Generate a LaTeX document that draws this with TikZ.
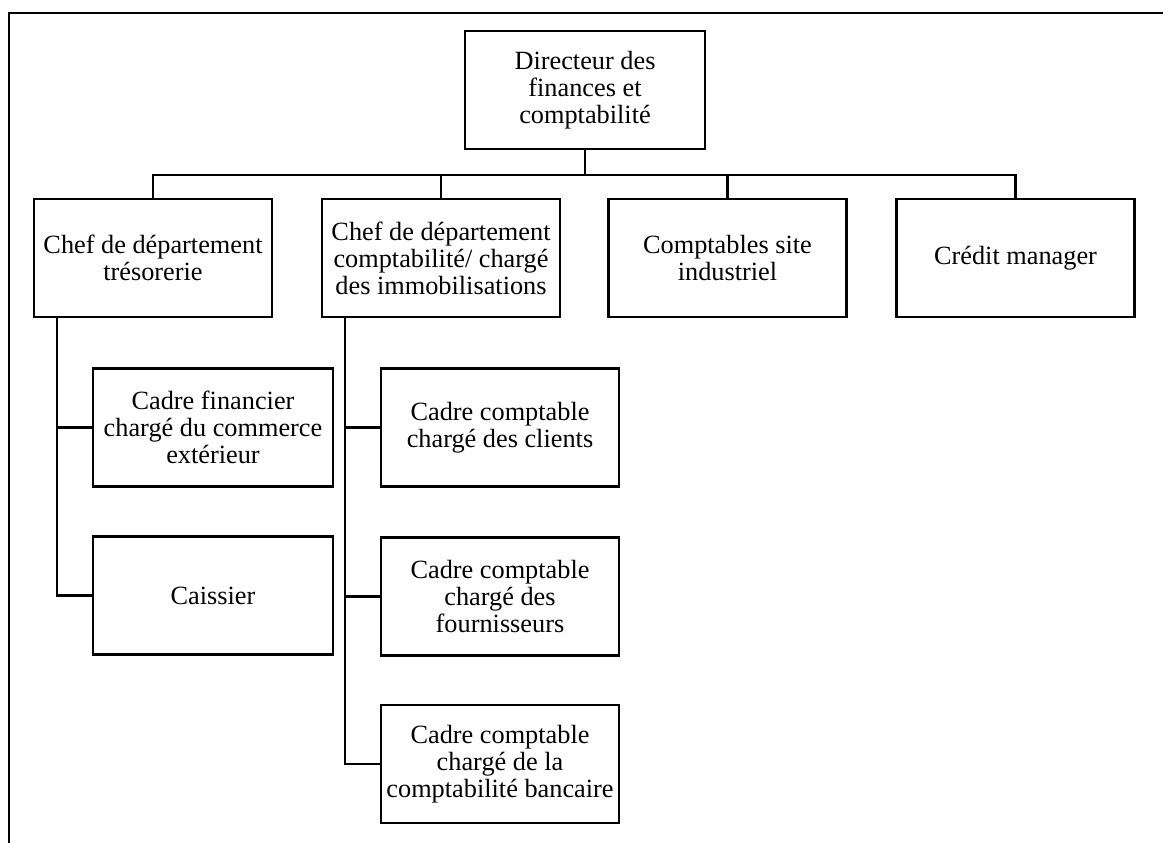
\documentclass[tikz,border=0pt]{standalone}
\usepackage{fontspec}
\setmainfont{Liberation Serif}
\begin{document}
\begin{tikzpicture}[x=1pt,y=-1pt,
  line width=2.4pt,
  unit/.style={draw, rectangle, line width=2.4pt, minimum width=238pt, minimum height=118pt,
    align=center, inner sep=2pt, font=\fontsize{26.3}{27}\selectfont},
  link/.style={draw, line width=2.4pt}]
\useasboundingbox (0,0) rectangle (1163,843);
% frame
\draw[line width=2.6pt] (9,843) -- (9,13) -- (1163,13);

% top
\node[unit, minimum width=240pt] (dir) at (585,90) {Directeur des\\finances et\\comptabilité};

% first level
\node[unit] (tres) at (153,258) {Chef de département\\trésorerie};
\node[unit] (compta) at (441,258) {Chef de département\\comptabilité/ chargé\\des immobilisations};
\node[unit] (site) at (727.5,258) {Comptables site\\industriel};
\node[unit] (credit) at (1015.5,258) {Crédit manager};

% second level, treasury
\node[unit, minimum width=240pt] (cfin) at (213,427.5) {Cadre financier\\chargé du commerce\\extérieur};
\node[unit, minimum width=240pt] (caisse) at (213,595.5) {Caissier};

% second level, accounting
\node[unit] (clients) at (500,427.5) {Cadre comptable\\chargé des clients};
\node[unit] (fourn) at (500,596.5) {Cadre comptable\\chargé des\\fournisseurs};
\node[unit] (banc) at (500,764) {Cadre comptable\\chargé de la\\comptabilité bancaire};

% bus under the director
\coordinate (bus) at (585,175);
\draw[link] (dir.south) -- (bus);
\draw[link] (tres.north) -- (tres.north |- bus) -- (credit.north |- bus) -- (credit.north);
\draw[link] (compta.north) -- (compta.north |- bus);
\draw[link] (site.north) -- (site.north |- bus);

% trunks
\coordinate (t1) at ([xshift=24pt]tres.south west);
\coordinate (t2) at ([xshift=24pt]compta.south west);
\draw[link] (t1) |- (caisse.west);
\draw[link] (cfin.west) -- (cfin.west -| t1);
\draw[link] (t2) |- (banc.west);
\draw[link] (clients.west) -- (clients.west -| t2);
\draw[link] (fourn.west) -- (fourn.west -| t2);
\end{tikzpicture}
\end{document}
